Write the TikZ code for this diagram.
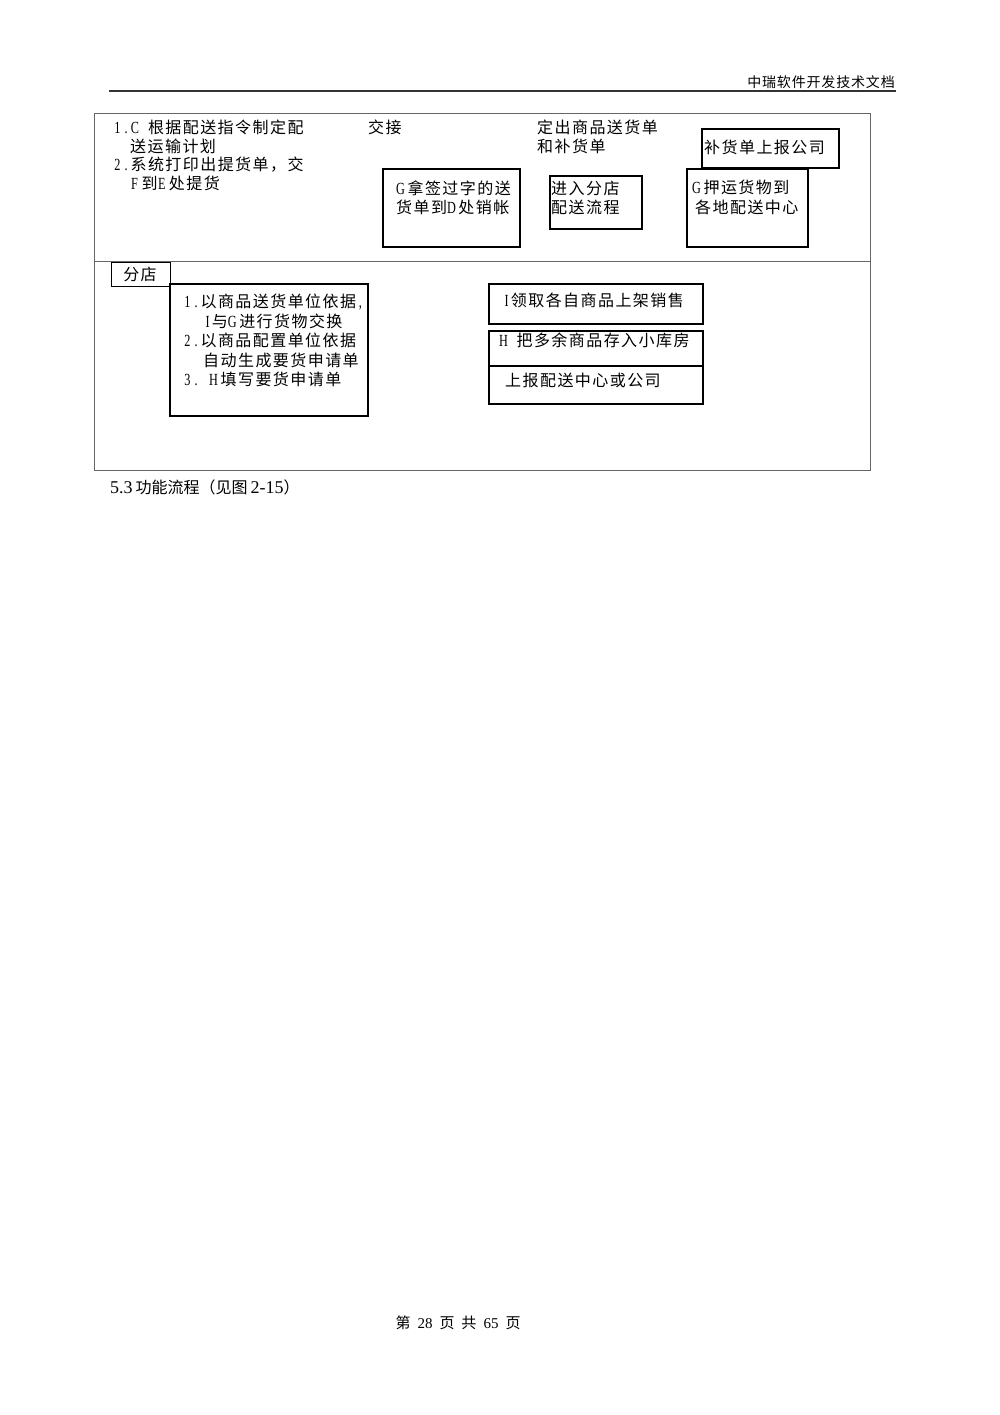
\documentclass[tikz,border=0pt]{standalone}
\usepackage{graphicx}
\usepackage{fontspec}
\setmainfont{Liberation Serif}
\newfontfamily\cjk{Noto Sans CJK SC}
\newfontfamily\cjks[LetterSpace=9]{Noto Sans CJK SC}
\newfontfamily\cjkh[LetterSpace=6]{Noto Sans CJK SC}
\newcommand\hw[1]{\makebox[8.7pt][c]{\scalebox{0.72}[1]{\rmfamily\fontsize{17}{19}\selectfont #1}}}
\newcommand\hs{\hspace*{8.7pt}}
\newcommand\gp{\hspace{7pt}}
\begin{document}
\begin{tikzpicture}[x=1pt,y=-1pt,
  box/.style={draw=black, line width=1.1pt},
  frame/.style={draw=black!60, line width=1pt},
  txt/.style={anchor=base west, inner sep=0pt, font=\cjks\fontsize{16}{19}\selectfont},
  ]
\useasboundingbox[fill=white] (0,0) rectangle (1000,1415);
% header
\draw[black!80, line width=1.2pt] (109,91) -- (896,91);
\node[anchor=base east, inner sep=0pt, font=\cjkh\fontsize{14}{16}\selectfont] (hdr) at (895,87.5) {中瑞软件开发技术文档};
% outer frame
\draw[frame] (94,114) rectangle (870,470);
\draw[frame] (94,261) -- (870,261);
% top section texts
\node[txt] (a1) at (113,134) {\hw{1}\hw{.}\hw{C}\hs 根据配送指令制定配};
\node[txt] (a2) at (130,153) {送运输计划};
\node[txt] (a3) at (113,171) {\hw{2}\hw{.}系统打印出提货单，交};
\node[txt] (a4) at (130,190) {\hw{F}\,到\hw{E}\,处提货};
\node[txt] (jj) at (368,134) {交接};
\node[txt] (d1) at (537,134) {定出商品送货单};
\node[txt] (d2) at (537,153) {和补货单};
% boxes top
\draw[box] (702,129) rectangle (839,168);
\node[txt] (bh) at (704,154) {补货单上报公司};
\draw[box] (383,169) rectangle (520,247);
\node[txt] (g1) at (396,195) {\hw{G}\,拿签过字的送};
\node[txt] (g2) at (396,214) {货单到\hw{D}\,处销帐};
\draw[box] (550,176) rectangle (642,229);
\node[txt] (j1) at (551,195) {进入分店};
\node[txt] (j2) at (551,214) {配送流程};
\draw[box] (687,169) rectangle (808,247);
\node[txt] (y1) at (692,194) {\hw{G}\,押运货物到};
\node[txt] (y2) at (695,214) {各地配送中心};
% bottom section
\draw[box, line width=1pt] (111,262) rectangle (170,286);
\node[anchor=base, inner sep=0pt, font=\cjks\fontsize{16}{19}\selectfont] (fd) at (140,280) {分店};
\draw[box] (170,284) rectangle (368,416);
\node[txt] (l1) at (183,307) {\hw{1}\hw{.}以商品送货单位依据\hw{,}};
\node[txt] (l2) at (203,327) {\hw{I}与\hw{G}\,进行货物交换};
\node[txt] (l3) at (183,346) {\hw{2}\hw{.}以商品配置单位依据};
\node[txt] (l4) at (203,366) {自动生成要货申请单};
\node[txt] (l5) at (183,385) {\hw{3}\hw{.}\hs\hw{H}\,填写要货申请单};
\draw[box] (489,284) rectangle (703,324);
\node[txt] (r1) at (502,306) {\hw{I}领取各自商品上架销售};
\draw[box] (489,331) rectangle (703,366);
\node[txt] (r2) at (499,346) {\hw{H}\hs 把多余商品存入小库房};
\draw[box] (489,366) rectangle (703,404);
\node[txt] (r3) at (505,386) {上报配送中心或公司};
% caption
\node[anchor=base west, inner sep=0pt, font=\fontsize{18}{20}\selectfont] (cap) at (110,493) {5.3\hspace{3pt}{\cjk\fontsize{16}{18}\selectfont 功能流程（见图}\hspace{3pt}2-15{\cjk\fontsize{16}{18}\selectfont ）}};
% footer
\node[anchor=base, inner sep=0pt, font=\fontsize{15}{17}\selectfont] (foot) at (458,1328) {{\cjk 第}\gp 28\gp{\cjk 页}\gp{\cjk 共}\gp 65\gp{\cjk 页}};
\end{tikzpicture}
\end{document}
